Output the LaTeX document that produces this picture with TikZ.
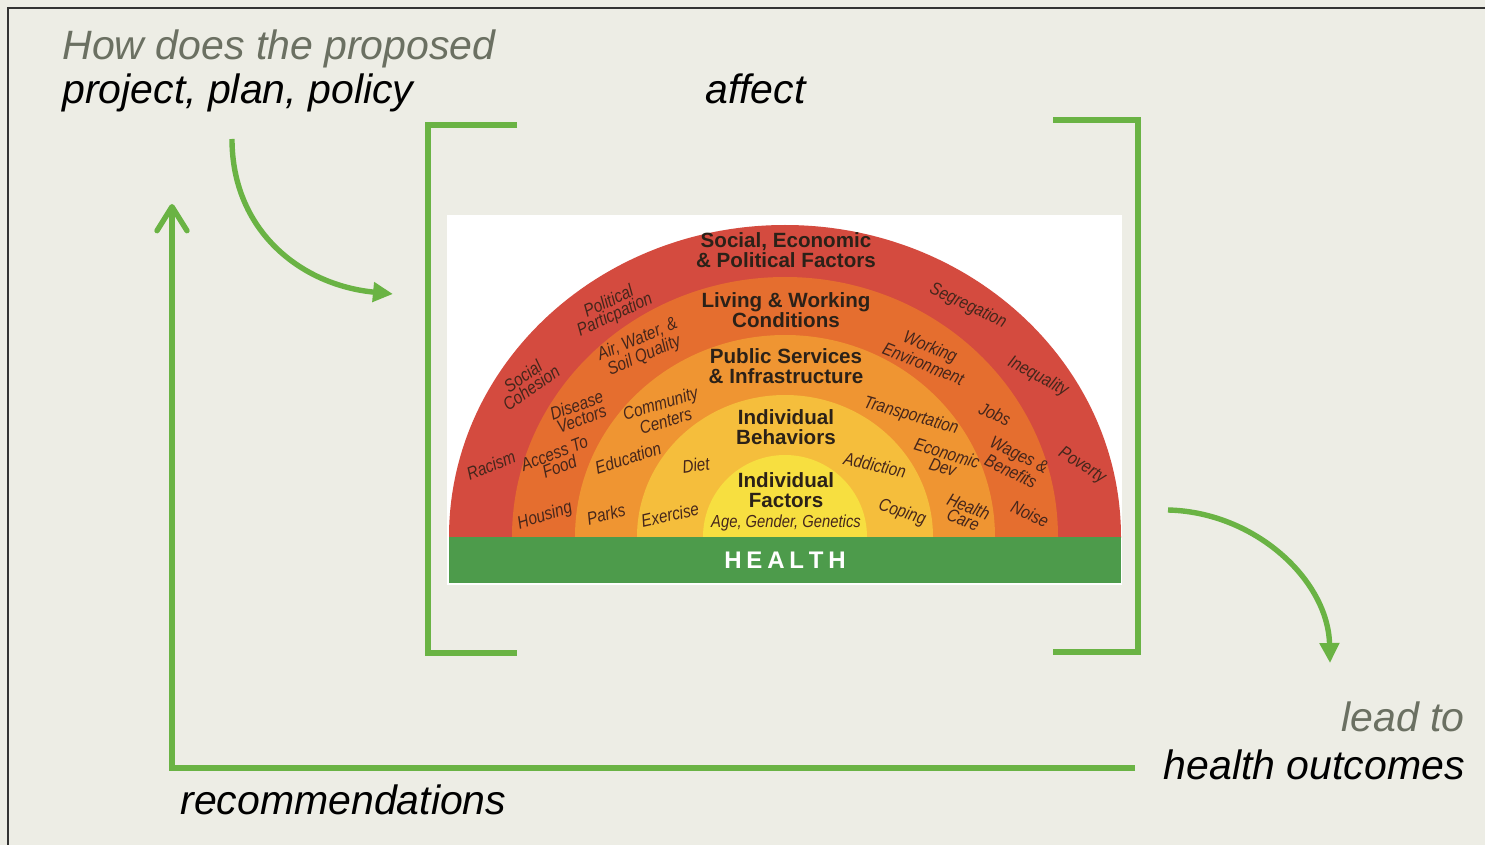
\documentclass[tikz,border=0pt]{standalone}
\usepackage{fontspec}
\setmainfont{Liberation Sans}
\newfontfamily\narrowfont[FakeStretch=0.85]{Liberation Sans}
\usetikzlibrary{arrows.meta}
\definecolor{bg}{HTML}{EDEDE5}
\definecolor{frame}{HTML}{333333}
\definecolor{grn}{HTML}{6AB344}
\definecolor{graytxt}{HTML}{6B7062}
\definecolor{ringA}{HTML}{D44B3F}
\definecolor{ringB}{HTML}{E56E2F}
\definecolor{ringC}{HTML}{EF9532}
\definecolor{ringD}{HTML}{F5BE3C}
\definecolor{ringE}{HTML}{F7DF40}
\definecolor{hbar}{HTML}{4D9B4B}
\definecolor{labcol}{HTML}{45261B}
\definecolor{titcol}{HTML}{2B2118}
\begin{document}
\begin{tikzpicture}[x=0.5pt,y=-0.5pt,
  bigtxt/.style={inner sep=0pt,font=\fontsize{20.5}{24}\selectfont\itshape},
  lbl/.style={inner sep=0pt,align=center,text=labcol,font=\narrowfont\itshape\fontsize{9}{7.2}\selectfont},
  ttl/.style={inner sep=0pt,align=center,text=titcol,font=\bfseries\fontsize{10.3}{10}\selectfont},
  gline/.style={draw=grn,line width=2.7pt},
  garrow/.style={draw=grn,line width=2.7pt,-{Triangle[length=10pt,width=9.5pt]}}]
\useasboundingbox (0,0) rectangle (1485,845);
\fill[bg] (0,0) rectangle (1485,845);
\draw[frame,line width=1.2pt] (8,845) -- (8,8) -- (1485,8);

% texts
\node[bigtxt,text=graytxt,anchor=base west] (q1) at (62,60) {How does the proposed};
\node[bigtxt,anchor=base west] (q2) at (62,104) {project, plan, policy};
\node[bigtxt,anchor=base west] (aff) at (705,104) {affect};
\node[bigtxt,text=graytxt,anchor=base east] (lead) at (1465,731) {lead to};
\node[bigtxt,anchor=base east] (out) at (1465,779) {health outcomes};
\node[bigtxt,anchor=base west] (rec) at (180,814) {recommendations};

% picture of the determinants
\fill[white] (447,215) rectangle (1122,585);
\begin{scope}
\clip (449,200) rectangle (1121,537.5);
\fill[ringA] (785,537) ellipse [x radius=336, y radius=312];
\fill[ringB] (785,537) ellipse [x radius=273, y radius=260];
\fill[ringC] (785,537) ellipse [x radius=210, y radius=202];
\fill[ringD] (785,537) ellipse [x radius=148, y radius=142];
\fill[ringE] (785,537) ellipse [x radius=82, y radius=82];
\end{scope}
\fill[hbar] (449,537) rectangle (1121,583);
\node[inner sep=0pt,text=white,font=\bfseries\fontsize{12}{12}\selectfont] (health) at (785,560)
  {H\kern2.4pt E\kern2.4pt A\kern2.4pt L\kern2.4pt T\kern2.4pt H};

\node[ttl] (t1) at (786,250) {Social, Economic\\\& Political Factors};
\node[ttl] (t2) at (786,310) {Living \& Working\\Conditions};
\node[ttl] (t3) at (786,366) {Public Services\\\& Infrastructure};
\node[ttl] (t4) at (786,427) {Individual\\Behaviors};
\node[ttl] (t5) at (786,490) {Individual\\Factors};
\node[lbl,font=\narrowfont\itshape\fontsize{8.7}{8}\selectfont] (age) at (786,523) {Age, Gender, Genetics};

% left side labels
\node[lbl,rotate=25] (polpart) at (612,309) {Political\\Particpation};
\node[lbl,rotate=35] (soccoh) at (527,382) {Social\\Cohesion};
\node[lbl,rotate=22] (racism) at (491,465) {Racism};
\node[lbl,rotate=23] (airwat) at (641,348) {Air, Water, \&\\Soil Quality};
\node[lbl,rotate=20] (disvec) at (579,412) {Disease\\Vectors};
\node[lbl,rotate=21] (accfood) at (557,460) {Access To\\Food};
\node[lbl,rotate=18] (housing) at (545,516) {Housing};
\node[lbl,rotate=17] (commc) at (663,412) {Community\\Centers};
\node[lbl,rotate=18] (educ) at (628,458) {Education};
\node[lbl,rotate=15] (parks) at (606,514) {Parks};
\node[lbl,rotate=13] (exer) at (670,515) {Exercise};
\node[lbl,rotate=8] (diet) at (696,465) {Diet};
% right side labels
\node[lbl,rotate=-25] (segr) at (968,306) {Segregation};
\node[lbl,rotate=-22] (workenv) at (927,355) {Working\\Environment};
\node[lbl,rotate=-28] (ineq) at (1038,377) {Inequality};
\node[lbl,rotate=-16] (transp) at (911,416) {Transportation};
\node[lbl,rotate=-24] (jobs) at (995,414) {Jobs};
\node[lbl,rotate=-12] (addic) at (875,465) {Addiction};
\node[lbl,rotate=-17] (econ) at (945,460) {Economic\\Dev};
\node[lbl,rotate=-26] (wages) at (1015,463) {Wages \&\\Benefits};
\node[lbl,rotate=-32] (pov) at (1082,466) {Poverty};
\node[lbl,rotate=-18] (coping) at (902,513) {Coping};
\node[lbl,rotate=-22] (hcare) at (966,513) {Health\\Care};
\node[lbl,rotate=-24] (noise) at (1030,514) {Noise};

% brackets
\coordinate (lbt) at (517,125);
\coordinate (lbb) at (517,653);
\coordinate (rbt) at (1053,120);
\coordinate (rbb) at (1053,652);
\draw[gline] (lbt) -- (428,125) -- (428,653) -- (lbb);
\draw[gline] (rbt) -- (1138,120) -- (1138,652) -- (rbb);

% arrows
\coordinate (a1s) at (232,139);
\coordinate (a1e) at (393,294);
\draw[garrow] (a1s) .. controls (232,230) and (300,285) .. (a1e);
\coordinate (a2s) at (1168,510);
\coordinate (a2e) at (1330,663);
\draw[garrow] (a2s) .. controls (1255,512) and (1328,580) .. (a2e);
\coordinate (fbs) at (1135,768);
\coordinate (fbc) at (172,768);
\coordinate (fbe) at (172,204);
\draw[draw=grn,line width=2.7pt,-{Straight Barb[length=12pt,width=15pt,round]}] (fbs) -- (fbc) -- (fbe);
\end{tikzpicture}
\end{document}
